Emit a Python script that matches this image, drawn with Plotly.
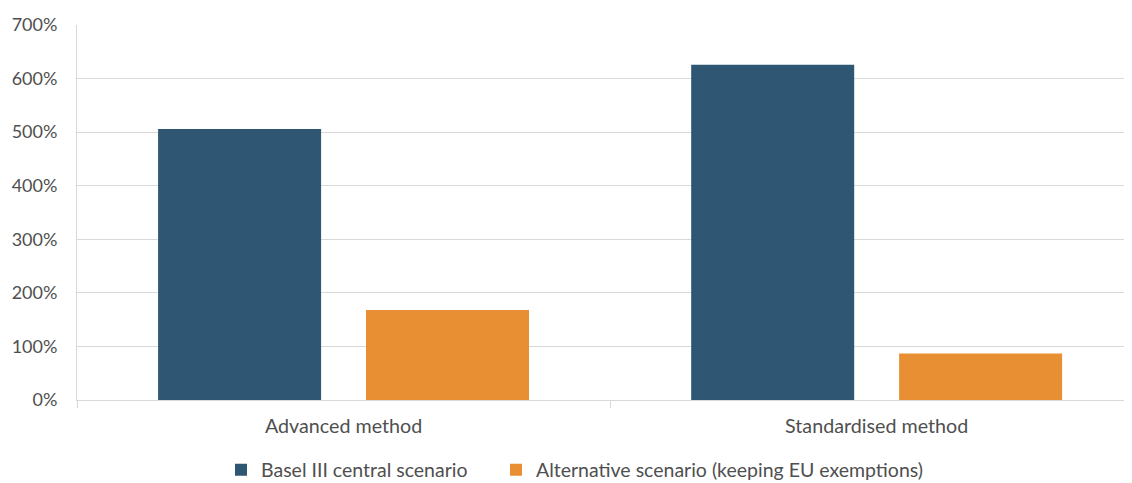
import plotly.graph_objects as go

categories = ["Advanced method", "Standardised method"]
basel_central = [506, 626]
alternative = [168, 87]
series_names = ["Basel III central scenario", "Alternative scenario (keeping EU exemptions)"]
y_ticks = [0, 100, 200, 300, 400, 500, 600, 700]

BLUE = "#2F5672"
ORANGE = "#E98F33"
GRID = "#D9D9D9"
TXT = "#4F4F4F"
FONT = "Lato"

W, H = 1124, 475  # page body has an 8px margin

fig = go.Figure()
fig.add_trace(go.Bar(x=categories, y=basel_central, name=series_names[0],
                     marker=dict(color=BLUE, line=dict(width=0)), legend="legend"))
fig.add_trace(go.Bar(x=categories, y=alternative, name=series_names[1],
                     marker=dict(color=ORANGE, line=dict(width=0)), legend="legend2"))

leg_common = dict(orientation="h", xref="container", xanchor="left",
                  y=-70 / 375, yref="paper", yanchor="middle",
                  font=dict(size=19.5, color=TXT), itemwidth=30,
                  bgcolor="rgba(0,0,0,0)")

fig.update_layout(
    width=W, height=H,
    margin=dict(l=69, r=0, t=17, b=83, autoexpand=False),
    paper_bgcolor="white", plot_bgcolor="white",
    barmode="group", bargap=0.22, bargroupgap=0.216,
    font=dict(family=FONT, color=TXT, size=18),
    legend=dict(x=213 / W, **leg_common),
    legend2=dict(x=488 / W, **leg_common),
    showlegend=True,
)
fig.update_xaxes(
    range=[-0.5, 1.479], showgrid=False, automargin=False,
    showline=True, linecolor=GRID, linewidth=1,
    ticks="outside", tickson="boundaries", ticklen=7, tickcolor=GRID,
    tickfont=dict(size=19.7, color=TXT), ticklabelstandoff=8,
)
fig.update_yaxes(
    range=[0, 700], tickvals=y_ticks, ticktext=[f"{v}%" for v in y_ticks],
    showgrid=True, gridcolor=GRID, gridwidth=1, automargin=False,
    showline=True, linecolor=GRID, linewidth=1,
    zeroline=False, ticks="", tickfont=dict(size=18, color=TXT),
    ticklabelstandoff=15,
)

fig.write_html("out.html")
